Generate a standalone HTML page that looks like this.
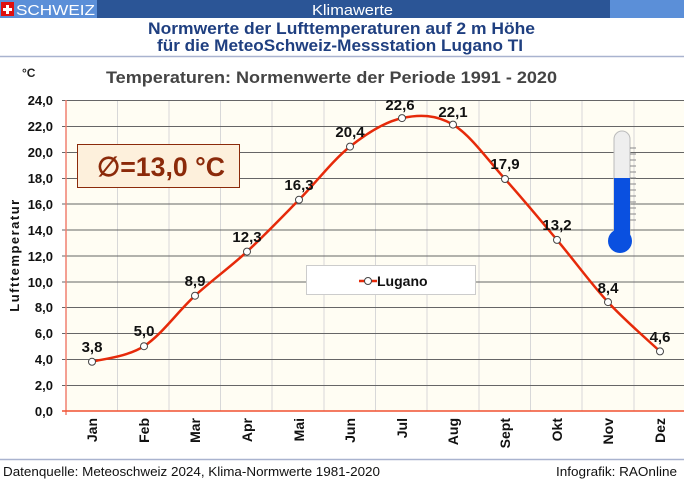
<!DOCTYPE html>
<html><head><meta charset="utf-8"><style>
html,body{margin:0;padding:0;background:#fff;}
svg{display:block;font-family:"Liberation Sans",sans-serif;}
.n{font-family:"Liberation Sans Narrow","Liberation Sans",sans-serif;font-weight:bold;}
</style></head><body>
<svg width="684" height="483" viewBox="0 0 684 483" xmlns="http://www.w3.org/2000/svg">
<rect x="0" y="0" width="684" height="18" fill="#2b5596"/>
<rect x="0" y="0" width="97" height="18" fill="#5b8fd8"/>
<rect x="610" y="0" width="74" height="18" fill="#5b8fd8"/>
<rect x="1" y="2" width="13" height="14" fill="#e01010"/>
<rect x="3" y="8" width="9" height="3" fill="#fff"/><rect x="6" y="5" width="3" height="9" fill="#fff"/>
<text x="16" y="15" font-size="15" fill="#fff" textLength="79" lengthAdjust="spacingAndGlyphs">SCHWEIZ</text>
<text x="312" y="15" font-size="15" fill="#fff" textLength="81" lengthAdjust="spacingAndGlyphs">Klimawerte</text>
<text x="148" y="34" font-size="17" font-weight="bold" fill="#1f3f80" textLength="387" lengthAdjust="spacingAndGlyphs">Normwerte der Lufttemperaturen auf 2 m Höhe</text>
<text x="157" y="51" font-size="17" font-weight="bold" fill="#1f3f80" textLength="366" lengthAdjust="spacingAndGlyphs">für die MeteoSchweiz-Messstation Lugano TI</text>
<line x1="0" y1="56.5" x2="684" y2="56.5" stroke="#a9b3cf" stroke-width="1.5"/>
<text x="22" y="77" font-size="12" font-weight="bold" fill="#222">°C</text>
<text x="106" y="83" font-size="17" font-weight="bold" fill="#444" textLength="451" lengthAdjust="spacingAndGlyphs">Temperaturen: Normenwerte der Periode  1991 - 2020</text>
<rect x="66" y="100" width="618" height="311" fill="#fffdf3"/>
<g stroke="#d8d8d8" stroke-width="1">
<line x1="117.5" y1="100" x2="117.5" y2="411"/><line x1="169" y1="100" x2="169" y2="411"/><line x1="220.5" y1="100" x2="220.5" y2="411"/><line x1="272" y1="100" x2="272" y2="411"/><line x1="324" y1="100" x2="324" y2="411"/><line x1="375.5" y1="100" x2="375.5" y2="411"/><line x1="427" y1="100" x2="427" y2="411"/><line x1="479" y1="100" x2="479" y2="411"/><line x1="530.5" y1="100" x2="530.5" y2="411"/><line x1="582" y1="100" x2="582" y2="411"/><line x1="634" y1="100" x2="634" y2="411"/>
</g>
<g stroke="#666" stroke-width="1">
<line x1="62" y1="100.5" x2="684" y2="100.5"/><line x1="62" y1="126.5" x2="684" y2="126.5"/><line x1="62" y1="152.5" x2="684" y2="152.5"/><line x1="62" y1="178.5" x2="684" y2="178.5"/><line x1="62" y1="204" x2="684" y2="204"/><line x1="62" y1="230" x2="684" y2="230"/><line x1="62" y1="256" x2="684" y2="256"/><line x1="62" y1="282" x2="684" y2="282"/><line x1="62" y1="307.5" x2="684" y2="307.5"/><line x1="62" y1="333.5" x2="684" y2="333.5"/><line x1="62" y1="359.5" x2="684" y2="359.5"/><line x1="62" y1="385.5" x2="684" y2="385.5"/>
</g>
<line x1="66" y1="100" x2="66" y2="415" stroke="#f08070" stroke-width="1.5"/>
<line x1="62" y1="411" x2="684" y2="411" stroke="#f05030" stroke-width="1.5"/>
<g class="n" font-size="13" fill="#111" text-anchor="end">
<text x="53" y="105">24,0</text><text x="53" y="131">22,0</text><text x="53" y="157">20,0</text><text x="53" y="183">18,0</text><text x="53" y="209">16,0</text><text x="53" y="235">14,0</text><text x="53" y="261">12,0</text><text x="53" y="287">10,0</text><text x="53" y="312">8,0</text><text x="53" y="338">6,0</text><text x="53" y="364">4,0</text><text x="53" y="390">2,0</text><text x="53" y="416">0,0</text>
</g>
<text class="n" transform="translate(19,255) rotate(-90)" font-size="13" letter-spacing="1.5" fill="#111" text-anchor="middle">Lufttemperatur</text>
<g class="n" font-size="14" fill="#111" text-anchor="end">
<text transform="translate(97,418) rotate(-90)">Jan</text>
<text transform="translate(149,418) rotate(-90)">Feb</text>
<text transform="translate(200,418) rotate(-90)">Mar</text>
<text transform="translate(252,418) rotate(-90)">Apr</text>
<text transform="translate(304,418) rotate(-90)">Mai</text>
<text transform="translate(355,418) rotate(-90)">Jun</text>
<text transform="translate(407,418) rotate(-90)">Jul</text>
<text transform="translate(458,418) rotate(-90)">Aug</text>
<text transform="translate(510,418) rotate(-90)">Sept</text>
<text transform="translate(562,418) rotate(-90)">Okt</text>
<text transform="translate(613,418) rotate(-90)">Nov</text>
<text transform="translate(665,418) rotate(-90)">Dez</text>
</g>
<rect x="77.5" y="144.5" width="162" height="43" fill="#fdf0dc" stroke="#8b2a0a" stroke-width="1"/>
<text x="97" y="176" font-size="27" font-weight="bold" fill="#8b2a0a" textLength="128" lengthAdjust="spacingAndGlyphs">∅=13,0 °C</text>
<rect x="614" y="131" width="16" height="110" rx="8" fill="#eee" stroke="#bbb" stroke-width="1"/>
<rect x="614" y="178" width="16" height="60" fill="#0a50e0"/>
<circle cx="620" cy="241" r="12" fill="#0a50e0"/>
<g stroke="#888" stroke-width="1">
<line x1="630" y1="148" x2="636" y2="148"/><line x1="630" y1="154" x2="636" y2="154"/><line x1="630" y1="160" x2="636" y2="160"/><line x1="630" y1="166" x2="636" y2="166"/><line x1="630" y1="172" x2="636" y2="172"/><line x1="630" y1="178" x2="636" y2="178"/><line x1="630" y1="184" x2="636" y2="184"/><line x1="630" y1="190" x2="636" y2="190"/><line x1="630" y1="196" x2="636" y2="196"/><line x1="630" y1="202" x2="636" y2="202"/><line x1="630" y1="208" x2="636" y2="208"/><line x1="630" y1="214" x2="636" y2="214"/><line x1="630" y1="220" x2="636" y2="220"/>
</g>
<rect x="306.5" y="265.5" width="169" height="29" fill="#fff" stroke="#ccc"/>
<line x1="359" y1="281" x2="377" y2="281" stroke="#e62a0a" stroke-width="2.5"/>
<circle cx="368" cy="281" r="3.5" fill="#fff" stroke="#444"/>
<text x="377" y="286" font-size="14" font-weight="bold" fill="#111">Lugano</text>
<path d="M92,361.8 C100.7,359.2 126.8,357.2 144,346.2 C161.2,335.2 177.8,311.5 195,295.7 C212.2,279.9 229.7,267.6 247,251.6 C264.3,235.6 281.8,217.3 299,199.8 C316.2,182.3 332.8,160.2 350,146.6 C367.2,133 384.8,121.8 402,118.1 C419.2,114.4 435.8,114.4 453,124.6 C470.2,134.8 487.7,159.8 505,179 C522.3,198.2 539.8,219.4 557,239.9 C574.2,260.4 590.8,283.5 608,302.1 C625.2,320.7 651.3,343.2 660,351.4" fill="none" stroke="#e62a0a" stroke-width="2.5"/>
<g fill="#fff" stroke="#444" stroke-width="1">
<circle cx="92" cy="361.8" r="3.5"/><circle cx="144" cy="346.2" r="3.5"/><circle cx="195" cy="295.7" r="3.5"/><circle cx="247" cy="251.6" r="3.5"/><circle cx="299" cy="199.8" r="3.5"/><circle cx="350" cy="146.6" r="3.5"/><circle cx="402" cy="118.1" r="3.5"/><circle cx="453" cy="124.6" r="3.5"/><circle cx="505" cy="179" r="3.5"/><circle cx="557" cy="239.9" r="3.5"/><circle cx="608" cy="302.1" r="3.5"/><circle cx="660" cy="351.4" r="3.5"/>
</g>
<g class="n" font-size="15" fill="#111" text-anchor="middle">
<text x="92" y="352">3,8</text><text x="144" y="336">5,0</text><text x="195" y="286">8,9</text><text x="247" y="242">12,3</text><text x="299" y="190">16,3</text><text x="350" y="137">20,4</text><text x="400" y="110">22,6</text><text x="453" y="117">22,1</text><text x="505" y="169">17,9</text><text x="557" y="230">13,2</text><text x="608" y="293">8,4</text><text x="660" y="342">4,6</text>
</g>
<line x1="0" y1="459.5" x2="684" y2="459.5" stroke="#a9b3cf" stroke-width="1.5"/>
<text x="3" y="476" font-size="13" fill="#111" textLength="377" lengthAdjust="spacingAndGlyphs">Datenquelle:  Meteoschweiz 2024,  Klima-Normwerte 1981-2020</text>
<text x="556" y="476" font-size="13" fill="#111" textLength="121" lengthAdjust="spacingAndGlyphs">Infografik:  RAOnline</text>
</svg>
</body></html>
